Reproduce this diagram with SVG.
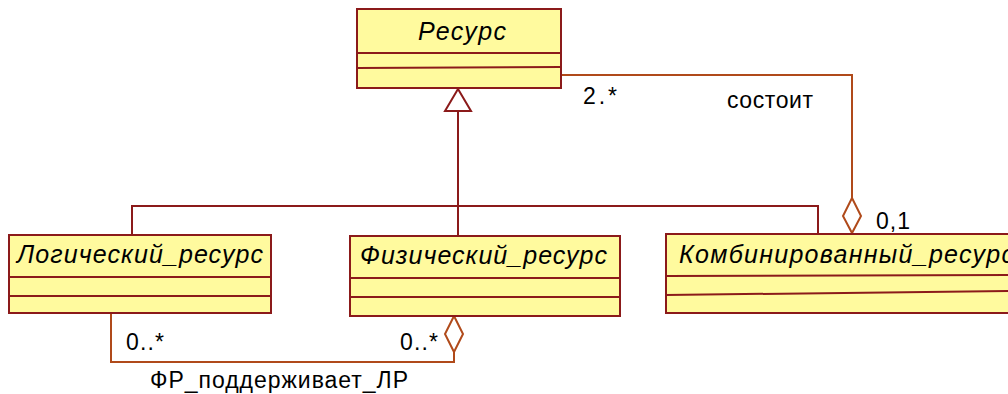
<svg xmlns="http://www.w3.org/2000/svg" width="1008" height="394" viewBox="0 0 1008 394">
<style>
.box{fill:#FFFA9E;stroke:#8B1A1A;stroke-width:2}
.div{stroke:#8B1A1A;stroke-width:2;fill:none}
.gen{stroke:#8B1A1A;stroke-width:2;fill:none}
.asc{stroke:#B04A1A;stroke-width:2;fill:none}
.name{font-family:"Liberation Sans",Arial,sans-serif;font-style:italic;font-size:25px;fill:#000}
.lbl{font-family:"Liberation Sans",Arial,sans-serif;font-size:23px;fill:#000}
</style>
<rect width="1008" height="394" fill="#fff"/>
<g id="connectors">
<polyline class="gen" points="458,111 458,236"/>
<polyline class="gen" points="132,235 132,206 818,206 818,234"/>
<polygon points="458,89 445,111 471,111" fill="#fff" stroke="#8B1A1A" stroke-width="2"/>
<polyline class="asc" points="561,75 852,75 852,198"/>
<polygon points="852,198 861,216 852,233 843,216" fill="#fff" stroke="#B04A1A" stroke-width="2"/>
<polyline class="asc" points="111,313 111,362 454,362 454,352"/>
<polygon points="454,316 463,334 454,352 445,334" fill="#fff" stroke="#B04A1A" stroke-width="2"/>
<text class="lbl" x="583" y="104" textLength="34">2.*</text>
<text class="lbl" x="727" y="108" textLength="86">состоит</text>
<text class="lbl" x="876" y="229" textLength="34">0,1</text>
<text class="lbl" x="126" y="350" textLength="38">0..*</text>
<text class="lbl" x="400" y="350" textLength="38">0..*</text>
<text class="lbl" x="150" y="388" textLength="258">ФР_поддерживает_ЛР</text>
</g>
<g id="resurs">
<rect class="box" x="357" y="9" width="204" height="79"/>
<line class="div" x1="357" y1="53" x2="561" y2="53"/>
<line class="div" x1="357" y1="68" x2="561" y2="67"/>
<text class="name" x="462" y="40" text-anchor="middle" textLength="88">Ресурс</text>
</g>
<g id="logical">
<rect class="box" x="9" y="235" width="262" height="78"/>
<line class="div" x1="9" y1="277" x2="271" y2="277"/>
<line class="div" x1="9" y1="296" x2="271" y2="296"/>
<text class="name" x="17" y="263" textLength="246">Логический_ресурс</text>
</g>
<g id="physical">
<rect class="box" x="350" y="236" width="270" height="80"/>
<line class="div" x1="350" y1="278" x2="620" y2="278"/>
<line class="div" x1="350" y1="297" x2="620" y2="297"/>
<text class="name" x="360" y="264" textLength="247">Физический_ресурс</text>
</g>
<g id="combined">
<rect class="box" x="666" y="234" width="360" height="79"/>
<line class="div" x1="666" y1="276" x2="1008" y2="275"/>
<line class="div" x1="666" y1="295" x2="1008" y2="291"/>
<text class="name" x="679" y="263" textLength="335">Комбинированный_ресурс</text>
</g>
</svg>
